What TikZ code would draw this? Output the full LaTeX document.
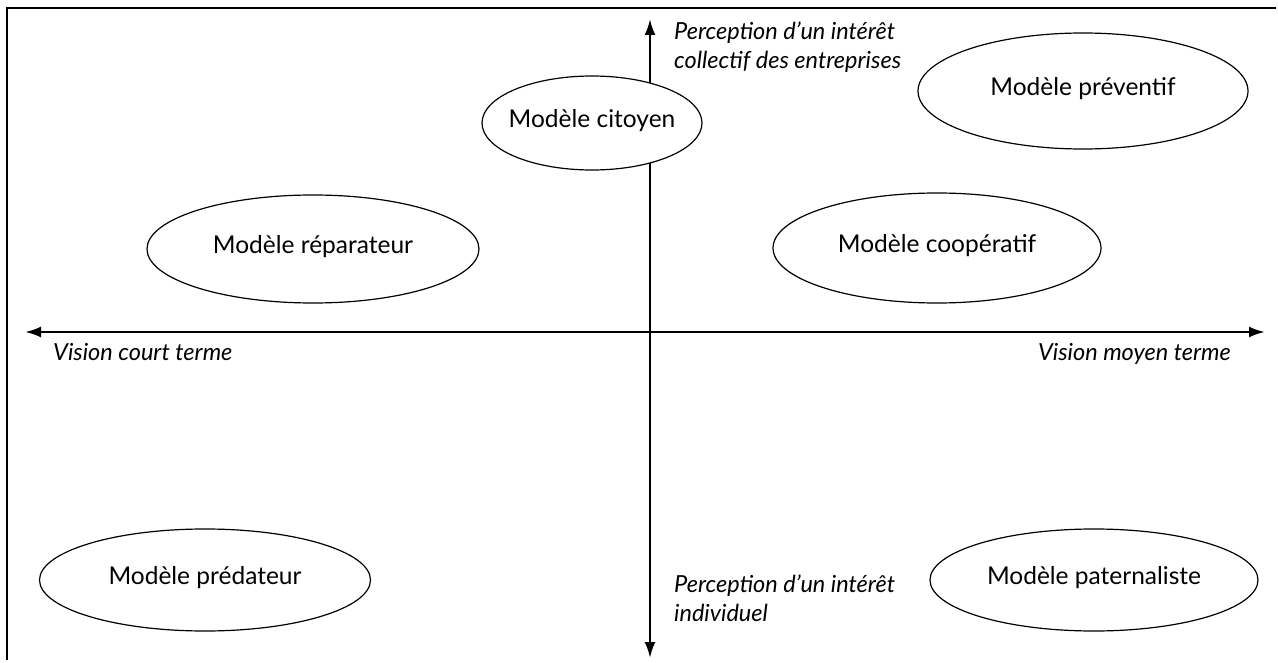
\documentclass[tikz,border=0pt]{standalone}
\usepackage{fontspec}
\setmainfont{Lato}
\usetikzlibrary{shapes.geometric,arrows.meta}
\begin{document}
\begin{tikzpicture}[x=1pt,y=-1pt,
  ell/.style={draw, ellipse, line width=1.2pt, fill=white, inner sep=0pt},
  mtext/.style={font=\fontsize{24.5}{28}\selectfont, inner sep=0pt},
  axlbl/.style={font=\fontsize{23.5}{29}\selectfont\itshape, inner sep=0pt, align=left},
  axis/.style={line width=2.4pt, {Latex[length=16pt,width=11pt]}-{Latex[length=16pt,width=11pt]}},
  frame/.style={line width=1.6pt}]
\useasboundingbox (0,0) rectangle (1278,663);
\coordinate (F1) at (7,660);
\coordinate (F2) at (7,8);
\coordinate (F3) at (1276,8);
\draw[frame] (F1) -- (F2) -- (F3);
\coordinate (T) at (650,19);
\coordinate (B) at (650,658);
\coordinate (L) at (25,332);
\coordinate (R) at (1265,332);
\draw[axis] (B) -- (T);
\draw[axis] (L) -- (R);
% ellipses
\node[ell, minimum width=220pt, minimum height=94pt] (cit) at (592,123) {};
\node[ell, minimum width=330pt, minimum height=116pt] (prev) at (1083,91) {};
\node[ell, minimum width=332pt, minimum height=108pt] (rep) at (313,249) {};
\node[ell, minimum width=328pt, minimum height=110pt] (coop) at (937,248) {};
\node[ell, minimum width=331pt, minimum height=102pt] (pred) at (205,580) {};
\node[ell, minimum width=328pt, minimum height=102pt] (pat) at (1094,580) {};
\node[mtext] (citT) at ([yshift=2pt]cit.center) {Modèle citoyen};
\node[mtext] (prevT) at ([yshift=2pt]prev.center) {Modèle préventif};
\node[mtext] (repT) at ([yshift=2pt]rep.center) {Modèle réparateur};
\node[mtext] (coopT) at ([yshift=2pt]coop.center) {Modèle coopératif};
\node[mtext] (predT) at ([yshift=2pt]pred.center) {Modèle prédateur};
\node[mtext] (patT) at ([yshift=2pt]pat.center) {Modèle paternaliste};
% axis labels
\node[axlbl, anchor=north west] (lblT) at (674,22) {Perception d’un intérêt\\collectif des entreprises};
\node[axlbl, anchor=north west] (lblB) at (674,575) {Perception d’un intérêt\\individuel};
\node[axlbl, anchor=north west] (lblL) at (53,343) {Vision court terme};
\node[axlbl, anchor=north east] (lblR) at (1231,343) {Vision moyen terme};
\end{tikzpicture}
\end{document}
